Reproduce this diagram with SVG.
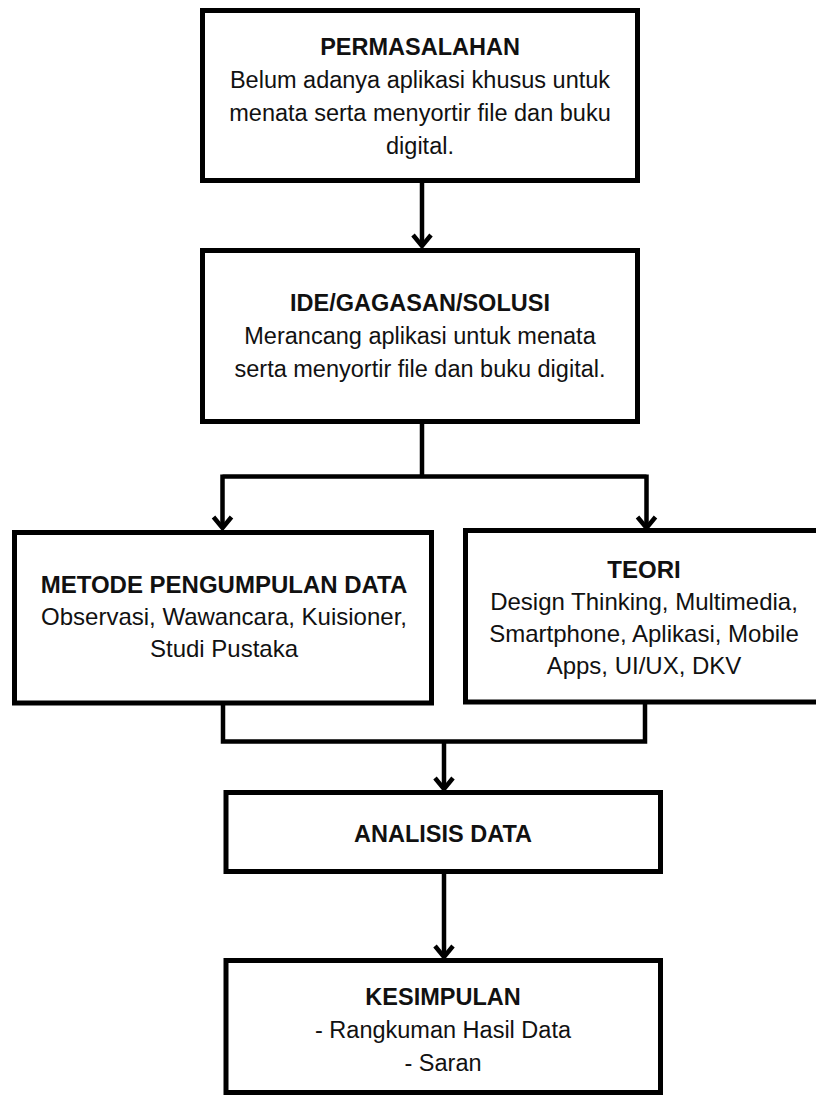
<svg xmlns="http://www.w3.org/2000/svg" width="816" height="1095" viewBox="0 0 816 1095">
<defs>
<style>
.box{fill:#fff;stroke:#000;stroke-width:5}
.ln{fill:none;stroke:#000;stroke-width:4.5}
.hd{fill:none;stroke:#000;stroke-width:4.5;stroke-linecap:butt;stroke-linejoin:miter}
text{font-family:"Liberation Sans",Arial,sans-serif;fill:#111;text-anchor:middle;font-size:23.5px}
.t{font-weight:bold}
.m{font-size:24px}
</style>
</defs>
<rect width="816" height="1095" fill="#fff"/>
<g id="connectors">
<path class="ln" d="M422,181 V246"/>
<path class="hd" d="M413,235 L422,246 L431,235"/>
<path class="ln" d="M422,422 V476.5 M222.5,476.5 H646.5 M222.5,474.5 V528 M646.5,474.5 V528"/>
<path class="hd" d="M213.5,517 L222.5,528 L231.5,517"/>
<path class="hd" d="M637.5,517 L646.5,528 L655.5,517"/>
<path class="ln" d="M223,703 V741.5 H645 V702 M444,741.5 V789"/>
<path class="hd" d="M435,778 L444,789 L453,778"/>
<path class="ln" d="M444,872 V957"/>
<path class="hd" d="M435,946 L444,957 L453,946"/>
</g>
<g id="permasalahan">
<rect class="box" x="202.5" y="10.5" width="435" height="170"/>
<text class="t" x="420" y="54.5">PERMASALAHAN</text>
<text x="420" y="87.5">Belum adanya aplikasi khusus untuk</text>
<text x="420" y="120.5">menata serta menyortir file dan buku</text>
<text x="420" y="153.5">digital.</text>
</g>
<g id="ide">
<rect class="box" x="202.5" y="250.5" width="435" height="171"/>
<text class="t" x="420" y="311">IDE/GAGASAN/SOLUSI</text>
<text x="420" y="344">Merancang aplikasi untuk menata</text>
<text x="420" y="377">serta menyortir file dan buku digital.</text>
</g>
<g id="metode">
<rect class="box" x="14.5" y="532.5" width="417" height="170.5"/>
<text class="t m" x="224" y="593">METODE PENGUMPULAN DATA</text>
<text class="m" x="224" y="625">Observasi, Wawancara, Kuisioner,</text>
<text class="m" x="224" y="657">Studi Pustaka</text>
</g>
<g id="teori">
<rect class="box" x="465.5" y="530.5" width="355" height="171.5"/>
<text class="t m" x="644" y="578">TEORI</text>
<text class="m" x="644" y="610">Design Thinking, Multimedia,</text>
<text class="m" x="644" y="642">Smartphone, Aplikasi, Mobile</text>
<text class="m" x="644" y="674">Apps, UI/UX, DKV</text>
</g>
<g id="analisis">
<rect class="box" x="226" y="792.5" width="434.5" height="79"/>
<text class="t" x="443" y="841.5">ANALISIS DATA</text>
</g>
<g id="kesimpulan">
<rect class="box" x="226" y="960.5" width="434.5" height="132"/>
<text class="t" x="443" y="1005">KESIMPULAN</text>
<text x="443" y="1038">- Rangkuman Hasil Data</text>
<text x="443" y="1071">- Saran</text>
</g>
</svg>
